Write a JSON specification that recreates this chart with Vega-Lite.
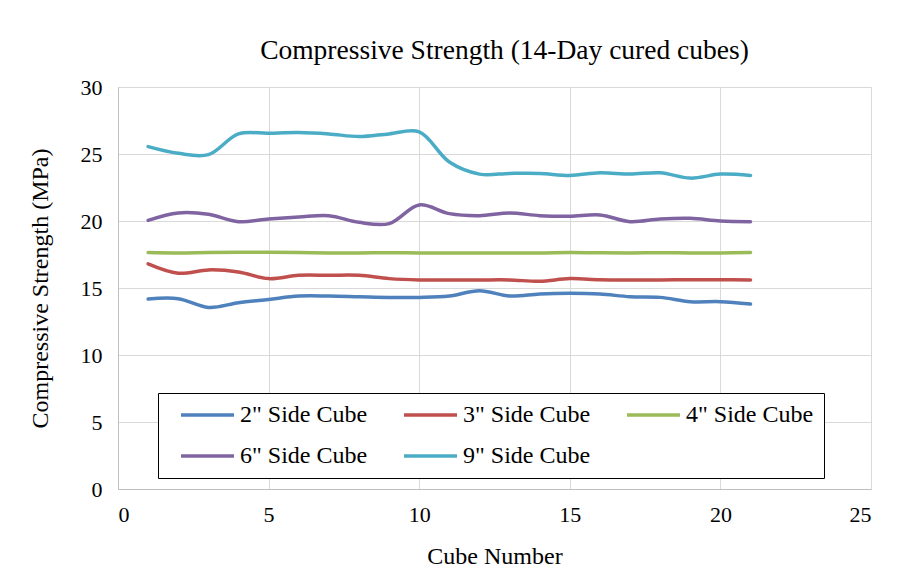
{
  "$schema": "https://vega.github.io/schema/vega-lite/v6.json",
  "autosize": {"type": "none"},
  "width": 753,
  "height": 402,
  "padding": {"left": 118, "top": 87, "right": 27, "bottom": 92},
  "background": "white",
  "title": {
    "text": "Compressive Strength (14-Day cured cubes)",
    "font": "Liberation Serif",
    "fontSize": 27.5,
    "fontWeight": "normal",
    "color": "#000000",
    "anchor": "middle",
    "frame": "group",
    "baseline": "alphabetic",
    "offset": -10,
    "dx": 10
  },
  "data": {
    "values": [
      {"cube": 1, "series": "2\" Side Cube", "strength": 14.18},
      {"cube": 2, "series": "2\" Side Cube", "strength": 14.2},
      {"cube": 3, "series": "2\" Side Cube", "strength": 13.55},
      {"cube": 4, "series": "2\" Side Cube", "strength": 13.9},
      {"cube": 5, "series": "2\" Side Cube", "strength": 14.15},
      {"cube": 6, "series": "2\" Side Cube", "strength": 14.4},
      {"cube": 7, "series": "2\" Side Cube", "strength": 14.4},
      {"cube": 8, "series": "2\" Side Cube", "strength": 14.35},
      {"cube": 9, "series": "2\" Side Cube", "strength": 14.3},
      {"cube": 10, "series": "2\" Side Cube", "strength": 14.3},
      {"cube": 11, "series": "2\" Side Cube", "strength": 14.4},
      {"cube": 12, "series": "2\" Side Cube", "strength": 14.8},
      {"cube": 13, "series": "2\" Side Cube", "strength": 14.4},
      {"cube": 14, "series": "2\" Side Cube", "strength": 14.55},
      {"cube": 15, "series": "2\" Side Cube", "strength": 14.6},
      {"cube": 16, "series": "2\" Side Cube", "strength": 14.55},
      {"cube": 17, "series": "2\" Side Cube", "strength": 14.35},
      {"cube": 18, "series": "2\" Side Cube", "strength": 14.3},
      {"cube": 19, "series": "2\" Side Cube", "strength": 13.98},
      {"cube": 20, "series": "2\" Side Cube", "strength": 13.98},
      {"cube": 21, "series": "2\" Side Cube", "strength": 13.8},

      {"cube": 1, "series": "3\" Side Cube", "strength": 16.8},
      {"cube": 2, "series": "3\" Side Cube", "strength": 16.1},
      {"cube": 3, "series": "3\" Side Cube", "strength": 16.35},
      {"cube": 4, "series": "3\" Side Cube", "strength": 16.2},
      {"cube": 5, "series": "3\" Side Cube", "strength": 15.7},
      {"cube": 6, "series": "3\" Side Cube", "strength": 15.95},
      {"cube": 7, "series": "3\" Side Cube", "strength": 15.95},
      {"cube": 8, "series": "3\" Side Cube", "strength": 15.95},
      {"cube": 9, "series": "3\" Side Cube", "strength": 15.7},
      {"cube": 10, "series": "3\" Side Cube", "strength": 15.6},
      {"cube": 11, "series": "3\" Side Cube", "strength": 15.6},
      {"cube": 12, "series": "3\" Side Cube", "strength": 15.6},
      {"cube": 13, "series": "3\" Side Cube", "strength": 15.6},
      {"cube": 14, "series": "3\" Side Cube", "strength": 15.5},
      {"cube": 15, "series": "3\" Side Cube", "strength": 15.7},
      {"cube": 16, "series": "3\" Side Cube", "strength": 15.62},
      {"cube": 17, "series": "3\" Side Cube", "strength": 15.6},
      {"cube": 18, "series": "3\" Side Cube", "strength": 15.6},
      {"cube": 19, "series": "3\" Side Cube", "strength": 15.62},
      {"cube": 20, "series": "3\" Side Cube", "strength": 15.62},
      {"cube": 21, "series": "3\" Side Cube", "strength": 15.6},

      {"cube": 1, "series": "4\" Side Cube", "strength": 17.65},
      {"cube": 2, "series": "4\" Side Cube", "strength": 17.62},
      {"cube": 3, "series": "4\" Side Cube", "strength": 17.65},
      {"cube": 4, "series": "4\" Side Cube", "strength": 17.67},
      {"cube": 5, "series": "4\" Side Cube", "strength": 17.67},
      {"cube": 6, "series": "4\" Side Cube", "strength": 17.65},
      {"cube": 7, "series": "4\" Side Cube", "strength": 17.62},
      {"cube": 8, "series": "4\" Side Cube", "strength": 17.62},
      {"cube": 9, "series": "4\" Side Cube", "strength": 17.63},
      {"cube": 10, "series": "4\" Side Cube", "strength": 17.62},
      {"cube": 11, "series": "4\" Side Cube", "strength": 17.62},
      {"cube": 12, "series": "4\" Side Cube", "strength": 17.62},
      {"cube": 13, "series": "4\" Side Cube", "strength": 17.62},
      {"cube": 14, "series": "4\" Side Cube", "strength": 17.62},
      {"cube": 15, "series": "4\" Side Cube", "strength": 17.65},
      {"cube": 16, "series": "4\" Side Cube", "strength": 17.63},
      {"cube": 17, "series": "4\" Side Cube", "strength": 17.62},
      {"cube": 18, "series": "4\" Side Cube", "strength": 17.63},
      {"cube": 19, "series": "4\" Side Cube", "strength": 17.62},
      {"cube": 20, "series": "4\" Side Cube", "strength": 17.62},
      {"cube": 21, "series": "4\" Side Cube", "strength": 17.65},

      {"cube": 1, "series": "6\" Side Cube", "strength": 20.05},
      {"cube": 2, "series": "6\" Side Cube", "strength": 20.6},
      {"cube": 3, "series": "6\" Side Cube", "strength": 20.5},
      {"cube": 4, "series": "6\" Side Cube", "strength": 19.95},
      {"cube": 5, "series": "6\" Side Cube", "strength": 20.15},
      {"cube": 6, "series": "6\" Side Cube", "strength": 20.3},
      {"cube": 7, "series": "6\" Side Cube", "strength": 20.4},
      {"cube": 8, "series": "6\" Side Cube", "strength": 19.9},
      {"cube": 9, "series": "6\" Side Cube", "strength": 19.8},
      {"cube": 10, "series": "6\" Side Cube", "strength": 21.2},
      {"cube": 11, "series": "6\" Side Cube", "strength": 20.55},
      {"cube": 12, "series": "6\" Side Cube", "strength": 20.4},
      {"cube": 13, "series": "6\" Side Cube", "strength": 20.6},
      {"cube": 14, "series": "6\" Side Cube", "strength": 20.4},
      {"cube": 15, "series": "6\" Side Cube", "strength": 20.35},
      {"cube": 16, "series": "6\" Side Cube", "strength": 20.45},
      {"cube": 17, "series": "6\" Side Cube", "strength": 19.95},
      {"cube": 18, "series": "6\" Side Cube", "strength": 20.15},
      {"cube": 19, "series": "6\" Side Cube", "strength": 20.2},
      {"cube": 20, "series": "6\" Side Cube", "strength": 20.0},
      {"cube": 21, "series": "6\" Side Cube", "strength": 19.95},

      {"cube": 1, "series": "9\" Side Cube", "strength": 25.55},
      {"cube": 2, "series": "9\" Side Cube", "strength": 25.05},
      {"cube": 3, "series": "9\" Side Cube", "strength": 24.95},
      {"cube": 4, "series": "9\" Side Cube", "strength": 26.5},
      {"cube": 5, "series": "9\" Side Cube", "strength": 26.55},
      {"cube": 6, "series": "9\" Side Cube", "strength": 26.6},
      {"cube": 7, "series": "9\" Side Cube", "strength": 26.5},
      {"cube": 8, "series": "9\" Side Cube", "strength": 26.3},
      {"cube": 9, "series": "9\" Side Cube", "strength": 26.5},
      {"cube": 10, "series": "9\" Side Cube", "strength": 26.65},
      {"cube": 11, "series": "9\" Side Cube", "strength": 24.4},
      {"cube": 12, "series": "9\" Side Cube", "strength": 23.5},
      {"cube": 13, "series": "9\" Side Cube", "strength": 23.55},
      {"cube": 14, "series": "9\" Side Cube", "strength": 23.55},
      {"cube": 15, "series": "9\" Side Cube", "strength": 23.4},
      {"cube": 16, "series": "9\" Side Cube", "strength": 23.6},
      {"cube": 17, "series": "9\" Side Cube", "strength": 23.5},
      {"cube": 18, "series": "9\" Side Cube", "strength": 23.6},
      {"cube": 19, "series": "9\" Side Cube", "strength": 23.2},
      {"cube": 20, "series": "9\" Side Cube", "strength": 23.5},
      {"cube": 21, "series": "9\" Side Cube", "strength": 23.4}
    ]
  },
  "mark": {"type": "line", "interpolate": "catmull-rom", "strokeWidth": 3.5, "strokeCap": "round"},
  "encoding": {
    "x": {
      "field": "cube",
      "type": "quantitative",
      "scale": {"domain": [0, 25], "nice": false},
      "axis": {
        "title": "Cube Number",
        "values": [0, 5, 10, 15, 20, 25],
        "titlePadding": 19,
        "labelPadding": 15
      }
    },
    "y": {
      "field": "strength",
      "type": "quantitative",
      "scale": {"domain": [0, 30], "nice": false},
      "axis": {
        "title": "Compressive Strength (MPa)",
        "values": [0, 5, 10, 15, 20, 25, 30],
        "titlePadding": 28,
        "labelPadding": 16
      }
    },
    "color": {
      "field": "series",
      "type": "nominal",
      "scale": {
        "domain": ["2\" Side Cube", "3\" Side Cube", "4\" Side Cube", "6\" Side Cube", "9\" Side Cube"],
        "range": ["#4F81BD", "#C0504D", "#9BBB59", "#8064A2", "#4BACC6"]
      },
      "legend": {
        "title": null,
        "orient": "none",
        "legendX": 40,
        "legendY": 306,
        "direction": "horizontal",
        "columns": 3,
        "symbolType": "stroke",
        "symbolSize": 2809,
        "symbolStrokeWidth": 3.5,
        "symbolOffset": 11,
        "clipHeight": 24,
        "labelFont": "Liberation Serif",
        "labelFontSize": 24,
        "labelColor": "#000000",
        "labelOffset": 4,
        "columnPadding": 23,
        "rowPadding": 17,
        "padding": 10,
        "strokeColor": "#000000",
        "fillColor": "white",
        "labelLimit": 300
      }
    }
  },
  "config": {
    "view": {"stroke": null},
    "axis": {
      "labelFont": "Liberation Serif",
      "labelFontSize": 22,
      "labelColor": "#000000",
      "titleFont": "Liberation Serif",
      "titleFontSize": 24,
      "titleFontWeight": "normal",
      "titleColor": "#000000",
      "ticks": false,
      "gridColor": "#D9D9D9",
      "gridWidth": 1,
      "domainColor": "#BFBFBF",
      "domainWidth": 1
    }
  }
}
